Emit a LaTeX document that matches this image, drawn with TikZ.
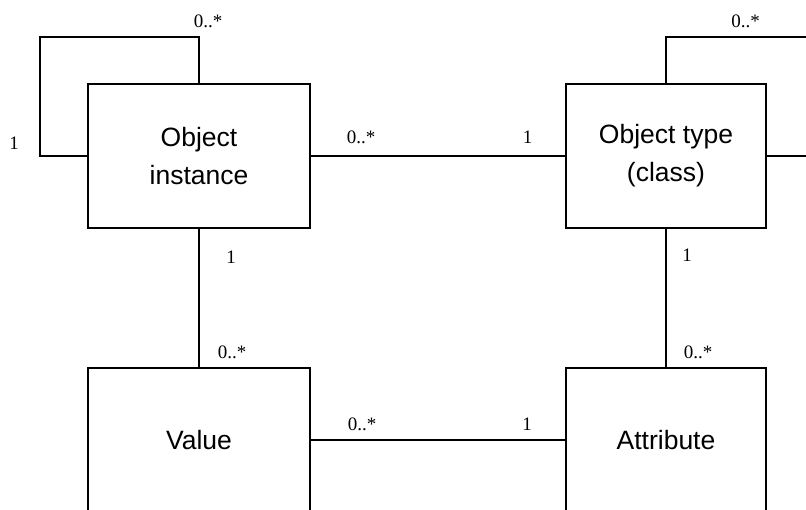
\documentclass[tikz,border=0pt]{standalone}
\usepackage{fontspec}
\setmainfont{Liberation Serif}
\newfontfamily\boxfont{Liberation Sans}
\begin{document}
\begin{tikzpicture}[x=1pt,y=-1pt,
  conn/.style={line width=2pt, line cap=rect},
  umlbox/.style={draw, line width=2pt, rectangle, inner sep=0pt, minimum height=144pt,
     align=center, font=\boxfont\fontsize{26.5}{38}\selectfont, fill=white},
  lab/.style={inner sep=0pt, font=\fontsize{19}{21}\selectfont}]
\useasboundingbox (0,0) rectangle (806,509);
\clip (0,0) rectangle (806,509);
\node[umlbox, minimum width=222pt] (oi) at (199,156) {Object\\instance};
\node[umlbox, minimum width=200pt] (ot) at (666,156) {Object type\\(class)};
\node[umlbox, minimum width=222pt] (v) at (199,440) {Value};
\node[umlbox, minimum width=200pt] (a) at (666,440) {Attribute};
\coordinate (l1) at (40,37);
\coordinate (r1) at (830,37);
\draw[conn] (oi.north) |- (l1) |- (oi.west);
\draw[conn] (ot.north) |- (r1) |- (ot.east);
\draw[conn] (oi.east) -- (ot.west);
\draw[conn] (v.east) -- (a.west);
\draw[conn] (oi.south) -- (v.north);
\draw[conn] (ot.south) -- (a.north);
\node[lab] (m1) at (208,21) {0..*};
\node[lab] (m2) at (14,143) {1};
\node[lab] (m3) at (361,137) {0..*};
\node[lab] (m4) at (527.5,137) {1};
\node[lab] (m5) at (745.5,21) {0..*};
\node[lab] (m6) at (811,184) {1};
\node[lab] (m7) at (231,257) {1};
\node[lab] (m8) at (232,352) {0..*};
\node[lab] (m9) at (687,255) {1};
\node[lab] (m10) at (698,352) {0..*};
\node[lab] (m11) at (362,424) {0..*};
\node[lab] (m12) at (527,424) {1};
\end{tikzpicture}
\end{document}
